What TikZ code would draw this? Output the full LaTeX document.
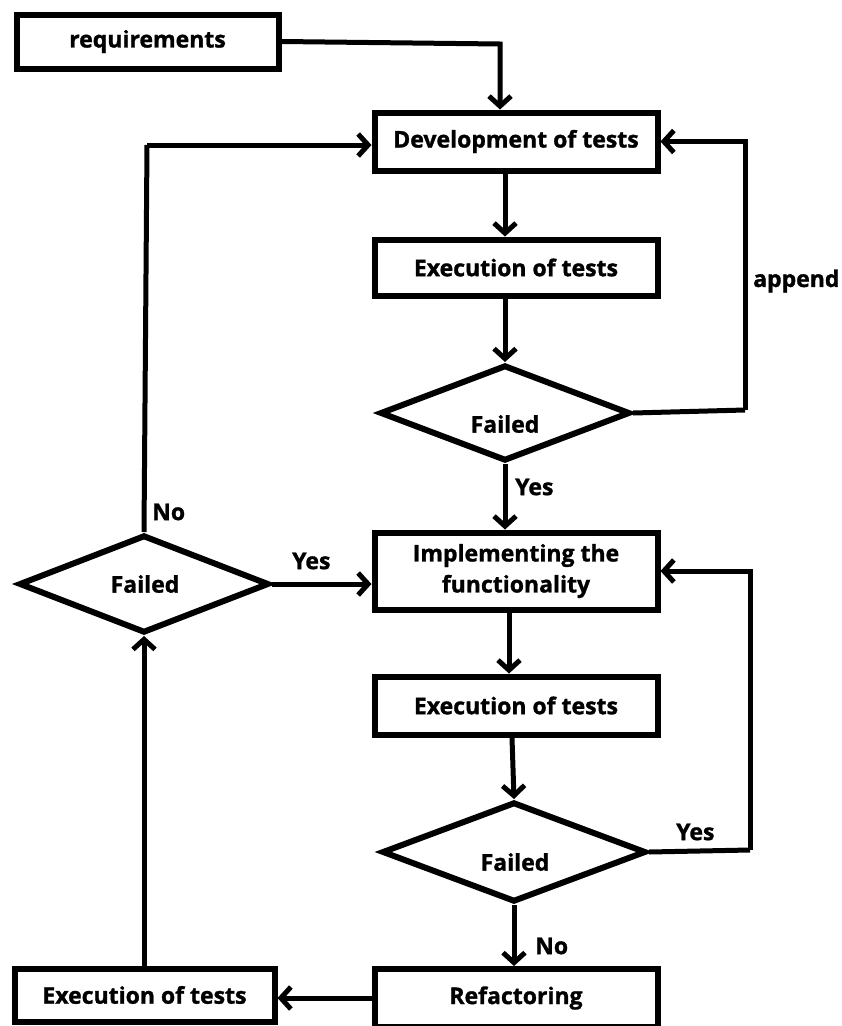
\documentclass[tikz,border=0pt]{standalone}
\usepackage{fontspec}
\setmainfont{Open Sans}[BoldFeatures={FakeBold=1.3}]
\usetikzlibrary{arrows.meta,shapes.geometric,calc}
\begin{document}
\begin{tikzpicture}[x=1pt,y=-1pt,
  lbl/.style={font=\bfseries\fontsize{23}{31}\selectfont,inner sep=0pt},
  box/.style={draw,line width=6pt,inner sep=0pt,align=center,lbl},
  dia/.style={draw,diamond,line width=6pt,inner sep=0pt,line join=miter,miter limit=10},
  arr/.style={line width=5pt,-{Straight Barb[length=10pt,width=22pt,line width=5pt]}},
  ln/.style={line width=5pt}]
\useasboundingbox (0,0) rectangle (842,1026);
% boxes
\node[box,minimum width=262pt,minimum height=54pt] (req) at (147.5,41.5) {requirements};
\node[box,minimum width=283pt,minimum height=58pt] (dev) at (516,141.5) {Development of tests};
\node[box,minimum width=283pt,minimum height=56pt] (ex1) at (516,267.5) {Execution of tests};
\node[box,minimum width=283pt,minimum height=77pt] (impl) at (516,571) {Implementing the\\functionality};
\node[box,minimum width=283pt,minimum height=58pt] (ex2) at (516,705.5) {Execution of tests};
\node[box,minimum width=283pt,minimum height=58pt] (ref) at (516,998) {Refactoring};
\node[box,minimum width=260pt,minimum height=53pt] (ex3) at (144.5,995) {Execution of tests};
% diamonds
\node[dia,minimum width=250pt,minimum height=96pt] (d1) at (505,413) {};
\node[dia,minimum width=250pt,minimum height=98pt] (d2) at (144,584) {};
\node[dia,minimum width=264pt,minimum height=100pt] (d3) at (514,852) {};
\node[lbl] (d1t) at (505,424) {Failed};
\node[lbl] (d2t) at (145,584) {Failed};
\node[lbl] (d3t) at (515,862) {Failed};
% helper coordinates
\coordinate (rq) at (500,44);
\coordinate (ap) at (745,410);
\coordinate (y3) at (750,850);
\coordinate (nl) at (147,145);
% connectors
\draw[arr] (req.east) -- (rq) -- (rq |- dev.north);
\draw[arr] (dev.south -| d1.north) -- (ex1.north -| d1.north);
\draw[arr] (ex1.south -| d1.north) -- (d1.north);
\draw[ln] (d1.east) -- (ap);
\draw[arr] (ap) |- (dev.east);
\draw[arr] (d1.south) -- (impl.north -| d1.south);
\draw[arr] (d2.east) -- (impl.west |- d2.east);
\draw[ln] (d2.north) -- (nl);
\draw[arr] (nl) -- (dev.west |- nl);
\draw[ln] (d3.east) -- (y3);
\draw[arr] (y3) |- (impl.east);
\draw[arr] ($(impl.south)+(-7,0)$) -- ($(ex2.north)+(-7,0)$);
\draw[arr] ($(ex2.south)+(-4,0)$) -- (d3.north);
\draw[arr] (d3.south) -- (ref.north -| d3.south);
\draw[arr] (ref.west) -- (ex3.east |- ref.west);
\draw[arr] (ex3.north -| d2.south) -- (d2.south);
% edge labels
\node[lbl,anchor=west] (lapp) at (753,281) {append};
\node[lbl,anchor=west] (ly1) at (515,487) {Yes};
\node[lbl,anchor=west] (ly2) at (292,561) {Yes};
\node[lbl,anchor=west] (lno2) at (152,512) {No};
\node[lbl,anchor=west] (ly3) at (676,832) {Yes};
\node[lbl,anchor=west] (lno3) at (535,946) {No};
\end{tikzpicture}
\end{document}
